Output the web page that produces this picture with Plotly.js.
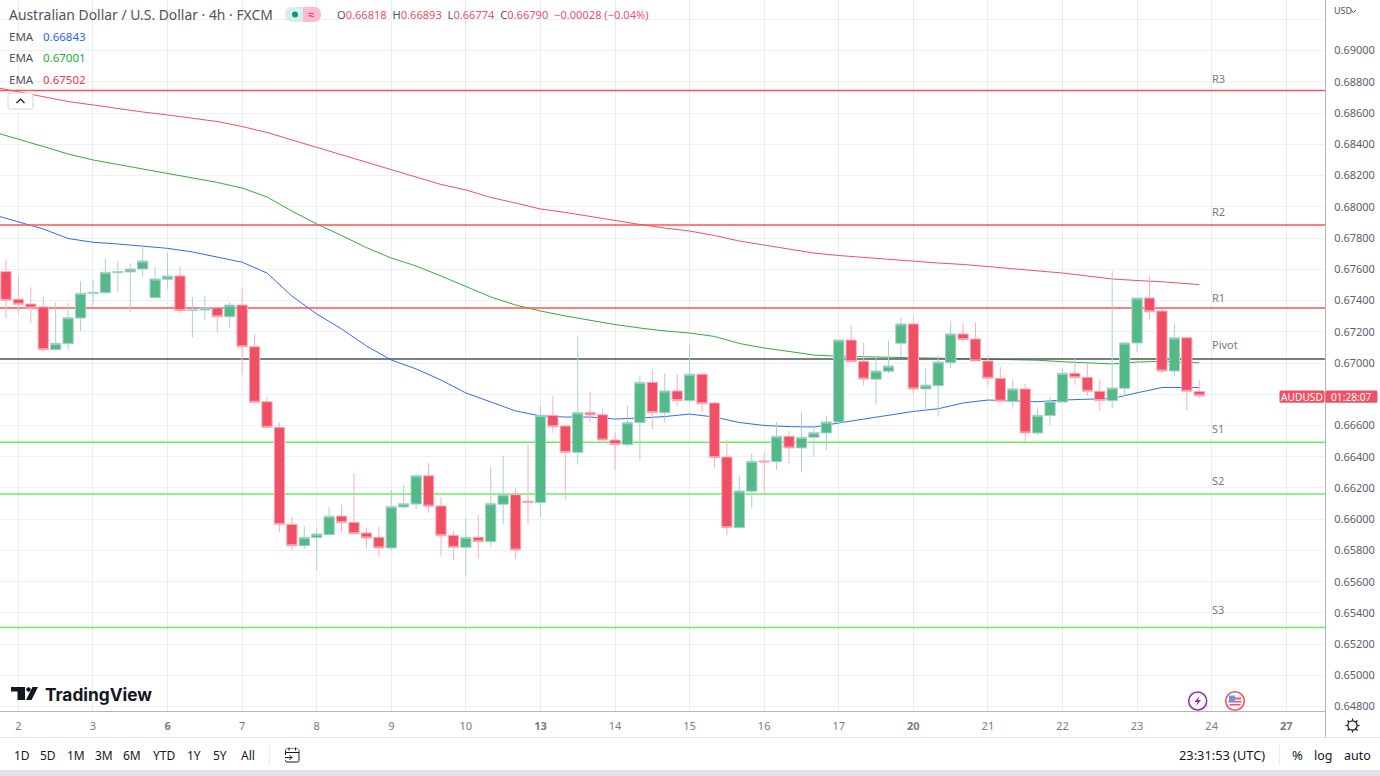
<!DOCTYPE html>
<html>
<head>
<meta charset="utf-8">
<script src="https://cdn.plot.ly/plotly-3.0.1.min.js"></script>
<style>html,body{margin:0;padding:0;background:#fff;overflow:hidden}#chart{width:1380px;height:776px}</style>
</head>
<body>
<div id="chart"></div>
<script>
// ---------- data (prices) ----------
const open = [0.67585,0.67408,0.67378,0.67359,0.67085,0.67124,0.67288,0.67444,0.67450,0.67578,0.67583,0.67602,0.67418,0.67536,0.67557,0.67335,0.67339,0.67354,0.67296,0.67371,0.67104,0.66752,0.66588,0.65967,0.65830,0.65882,0.65901,0.66020,0.65980,0.65912,0.65884,0.65816,0.66078,0.66097,0.66278,0.66085,0.65897,0.65820,0.65884,0.65856,0.66095,0.66157,0.66115,0.66106,0.66665,0.66597,0.66428,0.66684,0.66669,0.66507,0.66477,0.66618,0.66876,0.66682,0.66821,0.66759,0.66928,0.66744,0.66398,0.65946,0.66179,0.66373,0.66368,0.66531,0.66456,0.66524,0.66552,0.66622,0.67147,0.67011,0.66896,0.66947,0.67126,0.67250,0.66834,0.66855,0.67002,0.67186,0.67154,0.67013,0.66902,0.66753,0.66834,0.66552,0.66663,0.66750,0.66934,0.66908,0.66819,0.66759,0.66838,0.67128,0.67416,0.67333,0.66949,0.67162,0.66818];
const close = [0.67401,0.67376,0.67352,0.67085,0.67126,0.67290,0.67446,0.67453,0.67581,0.67585,0.67602,0.67653,0.67538,0.67557,0.67335,0.67339,0.67352,0.67296,0.67371,0.67104,0.66748,0.66588,0.65967,0.65830,0.65884,0.65905,0.66019,0.65978,0.65907,0.65880,0.65816,0.66080,0.66099,0.66278,0.66083,0.65894,0.65820,0.65884,0.65856,0.66099,0.66157,0.65803,0.66106,0.66665,0.66592,0.66428,0.66682,0.66667,0.66507,0.66477,0.66618,0.66876,0.66682,0.66821,0.66759,0.66928,0.66739,0.66394,0.65946,0.66181,0.66371,0.66366,0.66531,0.66456,0.66524,0.66554,0.66622,0.67147,0.67008,0.66898,0.66949,0.66981,0.67250,0.66834,0.66859,0.67006,0.67186,0.67149,0.67013,0.66902,0.66755,0.66834,0.66552,0.66665,0.66755,0.66934,0.66906,0.66819,0.66759,0.66840,0.67128,0.67416,0.67328,0.66949,0.67162,0.66819,0.66790];
const high = [0.67664,0.67551,0.67485,0.67421,0.67389,0.67382,0.67523,0.67531,0.67666,0.67653,0.67638,0.67749,0.67613,0.67702,0.67621,0.67421,0.67433,0.67360,0.67389,0.67478,0.67184,0.66784,0.66620,0.66016,0.65956,0.65948,0.66078,0.66091,0.66294,0.65948,0.65952,0.66187,0.66219,0.66289,0.66360,0.66142,0.65924,0.66008,0.66027,0.66334,0.66405,0.66198,0.66481,0.66725,0.66789,0.66603,0.67173,0.66814,0.66704,0.66556,0.66725,0.66917,0.66960,0.66934,0.66930,0.67115,0.66930,0.66750,0.66507,0.66277,0.66422,0.66430,0.66622,0.66565,0.66682,0.66603,0.66661,0.67147,0.67243,0.67130,0.67040,0.67143,0.67294,0.67288,0.66966,0.67047,0.67269,0.67261,0.67261,0.67045,0.66974,0.66891,0.66866,0.66716,0.66789,0.66960,0.67028,0.66998,0.66896,0.67589,0.67133,0.67418,0.67557,0.67344,0.67254,0.67165,0.66893];
const low = [0.67284,0.67314,0.67254,0.67072,0.67080,0.67085,0.67205,0.67371,0.67442,0.67456,0.67325,0.67552,0.67414,0.67474,0.67318,0.67162,0.67275,0.67198,0.67226,0.66923,0.66748,0.66588,0.65916,0.65798,0.65809,0.65675,0.65901,0.65914,0.65907,0.65818,0.65758,0.65803,0.66065,0.66063,0.66042,0.65766,0.65739,0.65638,0.65745,0.65822,0.65967,0.65745,0.65967,0.66016,0.66554,0.66127,0.66349,0.66618,0.66490,0.66317,0.66464,0.66375,0.66576,0.66618,0.66725,0.66750,0.66682,0.66326,0.65899,0.65946,0.66074,0.66166,0.66315,0.66358,0.66304,0.66400,0.66441,0.66614,0.67008,0.66855,0.66733,0.66934,0.67040,0.66802,0.66693,0.66656,0.66966,0.67136,0.67013,0.66859,0.66755,0.66716,0.66496,0.66539,0.66603,0.66750,0.66859,0.66789,0.66695,0.66707,0.66789,0.67072,0.67282,0.66934,0.66912,0.66699,0.66774];

const emaIdx = [-1,1,3,5,7,9,11,13,15,17,19,21,23,25,27,29,31,33,35,37,39,41,43,45,47,49,51,53,55,57,59,61,63,65,67,69,71,73,75,77,79,81,83,85,87,89,91,93,96];
const emaBlue = [0.67949,0.67903,0.67858,0.67797,0.67773,0.67762,0.67749,0.67734,0.67711,0.67679,0.67645,0.67576,0.67429,0.67314,0.67218,0.67109,0.67019,0.66962,0.66891,0.66808,0.66750,0.66693,0.66661,0.66654,0.66654,0.66641,0.66648,0.66657,0.66673,0.66654,0.66619,0.66600,0.66593,0.66590,0.66616,0.66641,0.66667,0.66690,0.66707,0.66744,0.66763,0.66757,0.66752,0.66763,0.66768,0.66773,0.66809,0.66843,0.66843];
const emaGreen = [0.68479,0.68434,0.68386,0.68338,0.68300,0.68271,0.68242,0.68213,0.68184,0.68156,0.68120,0.68063,0.67973,0.67890,0.67816,0.67739,0.67672,0.67621,0.67557,0.67490,0.67423,0.67371,0.67333,0.67301,0.67272,0.67246,0.67224,0.67205,0.67192,0.67170,0.67125,0.67096,0.67074,0.67051,0.67043,0.67040,0.67038,0.67036,0.67033,0.67031,0.67028,0.67024,0.67018,0.67008,0.66999,0.66994,0.67006,0.67011,0.67001];
const emaRed = [0.68767,0.68735,0.68703,0.68674,0.68652,0.68629,0.68607,0.68588,0.68568,0.68546,0.68514,0.68476,0.68428,0.68380,0.68332,0.68284,0.68236,0.68191,0.68143,0.68108,0.68060,0.68024,0.67986,0.67964,0.67938,0.67909,0.67887,0.67864,0.67845,0.67816,0.67781,0.67755,0.67730,0.67704,0.67688,0.67675,0.67663,0.67650,0.67640,0.67631,0.67618,0.67605,0.67592,0.67576,0.67557,0.67538,0.67528,0.67520,0.67502];

const levelNames = ['R3','R2','R1','Pivot','S1','S2','S3'];
const levelValues = [0.68745,0.67883,0.67352,0.67026,0.66492,0.66161,0.65307];

const xTickIdx = [1,7,13,19,25,31,37,43,49,55,61,67,73,79,85,91,97,103];
const xTickLabels = ['2','3','<b>6</b>','7','8','9','10','<b>13</b>','14','15','16','17','<b>20</b>','21','22','23','24','<b>27</b>'];
const yTickVals = [0.648,0.650,0.652,0.654,0.656,0.658,0.660,0.662,0.664,0.666,0.668,0.670,0.672,0.674,0.676,0.678,0.680,0.682,0.684,0.686,0.688,0.690,0.692];
const yTickLabels = ['0.64800','0.65000','0.65200','0.65400','0.65600','0.65800','0.66000','0.66200','0.66400','0.66600','','0.67000','0.67200','0.67400','0.67600','0.67800','0.68000','0.68200','0.68400','0.68600','0.68800','0.69000',''];

const rangeButtons = ['1D','5D','1M','3M','6M','YTD','1Y','5Y','All'];
const indexes = open.map((_, i) => i);

// ---------- geometry helpers for the surrounding chrome ----------
const W = 1380, H = 776, plotW = 1325, plotH = 711;
const xRange = [-0.48, 106.12];
const yRange = [0.64772, 0.69324];
const P = x => x / plotW, Q = y => 1 - y / plotH;
const FONT = '"Noto Sans", "Open Sans", sans-serif';
const RED = '#ef5066', GREEN = '#53b987';

const shapes = [];
const rect = (x0, y0, x1, y1, fill, line, lw) => shapes.push({type:'rect',xref:'paper',yref:'paper',x0:P(x0),x1:P(x1),y0:Q(y0),y1:Q(y1),fillcolor:fill||'rgba(0,0,0,0)',line:{color:line||'rgba(0,0,0,0)',width:lw||0},layer:'above'});
const circ = (cx, cy, r, fill, line, lw) => shapes.push({type:'circle',xref:'paper',yref:'paper',x0:P(cx-r),x1:P(cx+r),y0:Q(cy-r),y1:Q(cy+r),fillcolor:fill||'rgba(0,0,0,0)',line:{color:line||'rgba(0,0,0,0)',width:lw||0},layer:'above'});
const path = (cmds, fill, line, lw) => {
  const s = cmds.map(c => typeof c === 'string' ? c : P(c[0]) + ',' + Q(c[1])).join(' ');
  shapes.push({type:'path',xref:'paper',yref:'paper',path:s,fillcolor:fill||'rgba(0,0,0,0)',line:{color:line||'rgba(0,0,0,0)',width:lw||0},layer:'above'});
};
const rr = (x0,y0,x1,y1,r,fill,line,lw) => path(['M',[x0+r,y0],'L',[x1-r,y0],'Q',[x1,y0],[x1,y0+r],'L',[x1,y1-r],'Q',[x1,y1],[x1-r,y1],'L',[x0+r,y1],'Q',[x0,y1],[x0,y1-r],'L',[x0,y0+r],'Q',[x0,y0],[x0+r,y0],'Z'],fill,line,lw);

const annotations = [];
const txt = (x, y, text, size, color, anchor, family) => annotations.push({xref:'paper',yref:'paper',x:P(x),y:Q(y),text:text,showarrow:false,xanchor:anchor||'left',yanchor:'middle',align:anchor||'left',borderpad:0,font:{family:family||FONT,size:size,color:color}});

// frame and bands
rect(1325,0,1326,737,'#b2b5be');
rect(0,711,1326,712,'#b2b5be');
rect(0,737,1380,738,'#e0e3eb');
rect(0,770,1380,776,'#e0e3eb');

// header
txt(7.5,15,'Australian Dollar / U.S. Dollar · 4h · FXCM',13.9,'#50535e');
path(['M',[303,7],'L',[292,7],'Q',[285,7],[285,14.5],'Q',[285,22],[292,22],'L',[303,22],'Z'],'#d9f0ea');
path(['M',[303,7],'L',[314,7],'Q',[321,7],[321,14.5],'Q',[321,22],[314,22],'L',[303,22],'Z'],'#f9bcd0');
circ(295,14.5,3,'#089981');
txt(311.5,14,'≈',12,'#e91e63','center');
const sv = s => '<span style="color:'+RED+'">'+s+'</span>';
txt(335.5,15,'O'+sv('0.66818')+'  H'+sv('0.66893')+'  L'+sv('0.66774')+'  C'+sv('0.66790')+'  '+sv('−0.00028 (−0.04%)'),11.1,'#50535e');

// indicator rows
txt(7.5,36,'EMA',11.5,'#50535e'); txt(41.5,36,'0.66843',11.5,'#2962ff');
txt(7.5,58,'EMA',11.5,'#50535e'); txt(41.5,58,'0.67001',11.5,'#22ab34');
txt(7.5,79,'EMA',11.5,'#50535e'); txt(41.5,79,'0.67502',11.5,'#f23645');
rr(8,93,33,109,2,'#ffffff','#d1d4dc',1);
path(['M',[16.5,103],'L',[20.5,99],'L',[24.5,103]],null,'#131722',1.2);

// level labels
const levelLabelY = [78,211,297,344,428,480,609];
levelNames.forEach((n,i) => txt(1211,levelLabelY[i],n,11,'#787b86'));

// price + countdown tag
rr(1279.5,390.5,1324.5,402.8,1.5,RED);
rr(1325.5,390.5,1377.5,402.8,1.5,RED);
txt(1302,396.5,'AUDUSD',10.2,'#ffffff','center');
txt(1351.5,396.5,'01:28:07',10.2,'#ffffff','center');
txt(1333,11,'USD',9,'#50535e');
path(['M',[1351,10],'L',[1353.5,12.5],'L',[1356,10]],null,'#50535e',1);

// TradingView mark
path(['M',[11,687],'L',[25,687],'L',[25,700],'L',[17.5,700],'L',[17.5,691.5],'L',[11,691.5],'Z'],'#131722');
circ(28.5,689.5,2.2,'#131722');
path(['M',[32.5,687],'L',[38,687],'L',[31.5,700],'L',[26,700],'Z'],'#131722');
txt(43.5,694,'<b>TradingView</b>',17.3,'#131722','left','Inter, "Noto Sans", sans-serif');

// event icons
circ(1197.7,701,9,'#ffffff','#9c27b0',1.5);
path(['M',[1199.5,696],'L',[1194.5,702],'L',[1197.5,702],'L',[1196,706],'L',[1201,700],'L',[1198,700],'Z'],'#9c27b0');
circ(1235,701,9.3,'#ffffff','#f7525f',1.6);
rect(1229,697.5,1241,699.5,'#f7525f'); rect(1228.5,701,1241.5,702.5,'#f7525f'); rect(1229.5,704,1240.5,705.5,'#f7525f');
rect(1229,695.5,1235,701.5,'#5a9cf0');

// settings gear
circ(1352.5,725.5,4.6,'#ffffff','#131722',1.2);
[[1352.5,718.5,1352.5,720.5],[1352.5,730.5,1352.5,732.5],[1345.5,725.5,1347.5,725.5],[1357.5,725.5,1359.5,725.5],[1347.5,720.5,1349,722],[1356,729,1357.5,730.5],[1347.5,730.5,1349,729],[1356,722,1357.5,720.5]].forEach(t => path(['M',[t[0],t[1]],'L',[t[2],t[3]]],null,'#131722',1.2));

// bottom toolbar
const btnX = [22,48,76,104,132,164,194,220,248];
rangeButtons.forEach((b,i) => txt(btnX[i],755,b,12,'#131722','center'));
rect(269,745,270,765,'#e8eaf0');
rr(285.5,749,299,762,1.5,null,'#131722',1);
rect(286,749,298.5,752.5,'#ffffff');
path(['M',[285.5,752.5],'L',[299,752.5]],null,'#131722',1);
path(['M',[289,747.5],'L',[289,750.5]],null,'#131722',1);
path(['M',[295.5,747.5],'L',[295.5,750.5]],null,'#131722',1);
rect(283,755,292,760,'#ffffff');
path(['M',[285,757.5],'L',[292,757.5],'M',[289.5,755],'L',[292,757.5],'L',[289.5,760]],null,'#131722',1);
txt(1222,755,'23:31:53 (UTC)',12.8,'#131722','center');
rect(1279,745,1280,765,'#e8eaf0');
txt(1297,755,'%',13,'#131722','center');
txt(1323,755,'log',12.5,'#131722','center');
txt(1357,755,'auto',12.5,'#131722','center');

// ---------- traces ----------
const lineTrace = (x, y, color, width) => ({type:'scatter',mode:'lines',x:x,y:y,xaxis:'x',yaxis:'y',line:{color:color,width:width},hoverinfo:'skip',showlegend:false});
const levelColors = ['#ff5252','#ff5252','#ff5252','#50535e','#66f060','#66f060','#66f060'];
const levelTraces = levelValues.map((v,i) => ({type:'scatter',mode:'lines',x:xRange,y:[v,v],xaxis:'x',yaxis:'y',line:{color:levelColors[i],width:1.5},hoverinfo:'skip',showlegend:false}));

const traces = [
  lineTrace(emaIdx, emaBlue, '#2f6bff', 1),
  lineTrace(emaIdx, emaGreen, '#2fae3a', 1),
  lineTrace(emaIdx, emaRed, '#f4505f', 1),
  ...levelTraces,
  {type:'candlestick',x:indexes,open:open,high:high,low:low,close:close,xaxis:'x2',yaxis:'y2',whiskerwidth:0,
   increasing:{line:{color:'#a9d2cc',width:1},fillcolor:GREEN},
   decreasing:{line:{color:'#f8b0bb',width:1},fillcolor:RED},
   hoverinfo:'skip',showlegend:false}
];

const layout = {
  width:W,height:H,
  margin:{l:0,r:W-plotW,t:0,b:H-plotH,pad:0},
  paper_bgcolor:'#ffffff',plot_bgcolor:'#ffffff',
  showlegend:false,
  boxgap:0.17,boxgroupgap:0,
  font:{family:FONT},
  xaxis:{type:'linear',range:xRange,tickmode:'array',tickvals:xTickIdx,ticktext:xTickLabels,showgrid:true,gridcolor:'#e7eef3',gridwidth:1,zeroline:false,showline:false,ticks:'outside',ticklen:5,tickcolor:'rgba(0,0,0,0)',tickfont:{family:FONT,size:11,color:'#787b86'},rangeslider:{visible:false},fixedrange:true},
  yaxis:{type:'linear',range:yRange,side:'right',tickmode:'array',tickvals:yTickVals,ticktext:yTickLabels,showgrid:true,gridcolor:'#eef1f4',gridwidth:1,zeroline:false,showline:false,ticks:'outside',ticklen:6,tickcolor:'rgba(0,0,0,0)',tickfont:{family:FONT,size:11,color:'#5d606b'},fixedrange:true},
  xaxis2:{type:'linear',overlaying:'x',range:xRange,visible:false,showgrid:false,zeroline:false,rangeslider:{visible:false},fixedrange:true},
  yaxis2:{type:'linear',overlaying:'y',range:yRange,visible:false,showgrid:false,zeroline:false,side:'right',fixedrange:true},
  shapes:shapes,annotations:annotations
};
Plotly.newPlot('chart',traces,layout,{displayModeBar:false,staticPlot:true});
</script>
</body>
</html>
